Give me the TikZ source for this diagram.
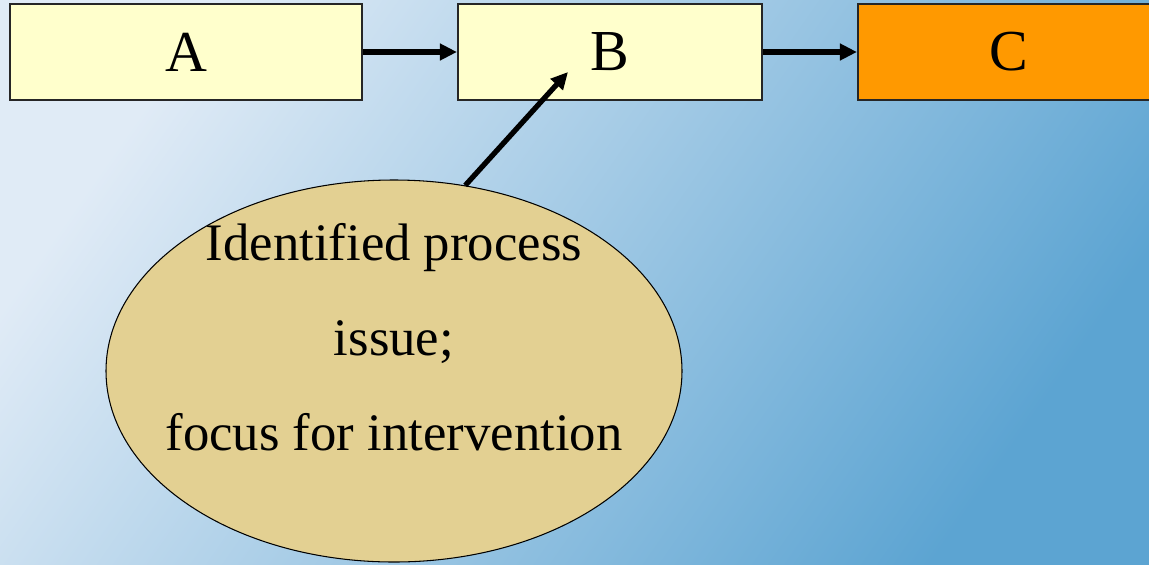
\documentclass[tikz,border=0pt]{standalone}
\usepackage{fontspec}
\setmainfont{Liberation Serif}
\usepackage{tikz}
\usetikzlibrary{shapes.geometric}
\usetikzlibrary{arrows.meta}

\definecolor{bgtop}{RGB}{224,235,246}
\definecolor{bgmid}{RGB}{180,208,234}
\definecolor{bgbot}{RGB}{92,164,210}
\definecolor{boxyellow}{RGB}{255,255,204}
\definecolor{boxorange}{RGB}{255,153,0}
\definecolor{issuefill}{RGB}{227,208,146}

\begin{document}
\begin{tikzpicture}
    \tikzstyle{pbox}=[
      rectangle,
      draw=black!85,
      line width=1.2pt,
      fill=boxyellow,
      minimum height=1.92cm,
      font=\fontsize{33}{40}\selectfont,
    ]
    \tikzstyle{pboxc}=[
      pbox,
      fill=boxorange,
    ]
    \tikzstyle{issue}=[
      ellipse,
      draw=black,
      line width=0.6pt,
      fill=issuefill,
      minimum width=11.52cm,
      minimum height=7.64cm,
    ]
    \tikzstyle{dedge}=[line width=3pt,-{Triangle[length=0.34cm,width=0.32cm]},draw=black]

    \clip (0,0) rectangle (22.98,-11.28);
    \fill[top color=bgtop, middle color=bgmid, bottom color=bgbot, shading angle=55] (0,0) rectangle (22.98,-11.28);

    {
      \node[pbox, minimum width=7.04cm] (a) at (3.72,-1.04) {A};
      \node[pbox, minimum width=6.08cm] (b) at (12.2,-1.04) {B};
      \node[pboxc, minimum width=6.04cm] (c) at (20.18,-1.04) {C};

      \node[issue] (ell) at (7.88,-7.42) {};
      \node[align=center, font=\fontsize{30}{54}\selectfont] (elltext) at (7.88,-6.74)
        {Identified process\\issue;\\focus for intervention};
      \coordinate (btip) at (11.36,-1.44);
    }

    {
      \draw[dedge] (a)--(b);
      \draw[dedge] (b)--(c);
      \draw[dedge] (ell.69)--(btip);
    }
\end{tikzpicture}
\end{document}
